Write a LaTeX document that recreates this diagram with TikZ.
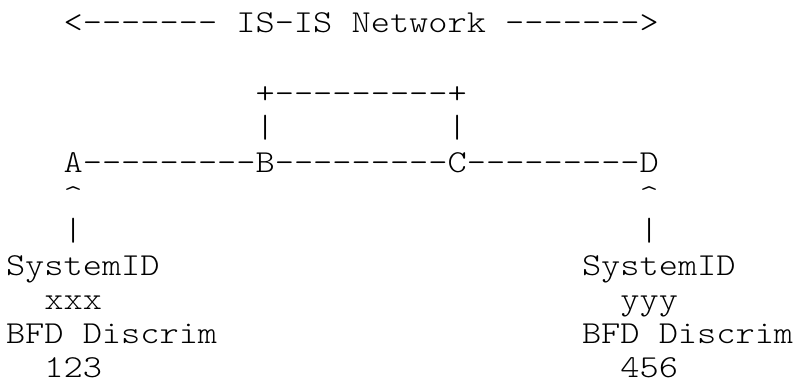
\documentclass[tikz,border=0pt]{standalone}
\usepackage{fontspec}
\setmonofont{lmmonolt10-regular}[Extension=.otf, FakeStretch=1.143]
\begin{document}
\begin{tikzpicture}[x=1pt,y=1pt,
  txt/.style={anchor=base west, inner sep=0pt, outer sep=0pt, text=black,
    font=\ttfamily\fontsize{32}{34}\selectfont}]
\useasboundingbox (0,0) rectangle (796,-383);
% rows of the ASCII drawing; column n starts at x = 6 + 19.2 n
\node[txt] (title) at (63.6,-32) {<------- IS-IS Network ------->};
\node[txt] (loop) at (255.6,-103.7) {+---------+};
\node[txt] (loopB) at (255.6,-137.8) {|};
\node[txt] (loopC) at (447.6,-137.8) {|};
\node[txt] (chain) at (63.6,-172) {A---------B---------C---------D};
\node[txt] (caretA) at (63.6,-206) {\textasciicircum};
\node[txt] (caretD) at (639.6,-206) {\textasciicircum};
\node[txt] (barA) at (63.6,-240) {|};
\node[txt] (barD) at (639.6,-240) {|};
\node[txt] (sysA) at (6,-275) {SystemID};
\node[txt] (sysD) at (582,-275) {SystemID};
\node[txt] (idA) at (44.4,-309) {xxx};
\node[txt] (idD) at (620.4,-309) {yyy};
\node[txt] (bfdA) at (6,-343) {BFD Discrim};
\node[txt] (bfdD) at (582,-343) {BFD Discrim};
\node[txt] (discA) at (44.4,-377) {123};
\node[txt] (discD) at (620.4,-377) {456};
\end{tikzpicture}
\end{document}
